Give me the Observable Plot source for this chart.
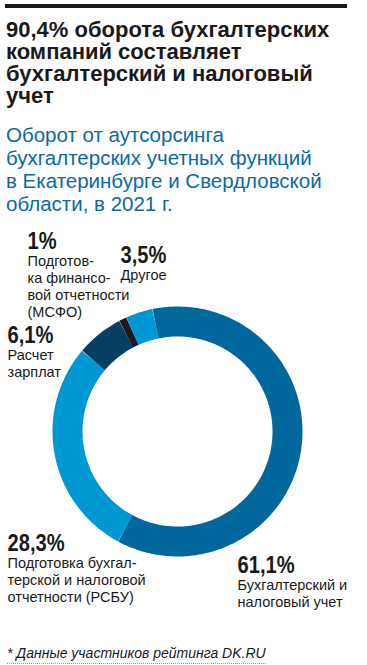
<!DOCTYPE html>
<html>
<head>
<meta charset="utf-8">
<script src="https://cdn.jsdelivr.net/npm/d3@7"></script>
<script src="https://cdn.jsdelivr.net/npm/@observablehq/plot@0.6"></script>
<style>
  body { margin: 0; background: #fff; width: 367px; height: 665px; overflow: hidden; font-family: "Liberation Sans", Arial, sans-serif; }
  #header { position: relative; height: 220px; }
  #rule { position: absolute; left: 5px; top: 4px; width: 342px; height: 4px; background: #1a1a1a; }
  #title { position: absolute; left: 6px; top: 19px; font-size: 22px; line-height: 22px; font-weight: bold; color: #1a1a1a; white-space: nowrap; }
  #subtitle { position: absolute; left: 6px; top: 123px; font-size: 20.5px; line-height: 23px; color: #0b6aa1; white-space: nowrap; }
  #chart { height: 405px; }
  #chart svg { display: block; }
  #footer { position: relative; height: 40px; }
  #note { position: absolute; left: 7px; top: 20px; font-size: 14px; font-style: italic; color: #1a1a1a; padding-bottom: 2px; border-bottom: 1px dotted #999; }
</style>
</head>
<body>
<div id="header">
  <div id="rule"></div>
  <div id="title">90,4% оборота бухгалтерских<br>компаний составляет<br>бухгалтерский и налоговый<br>учет</div>
  <div id="subtitle">Оборот от аутсорсинга<br>бухгалтерских учетных функций<br>в Екатеринбурге и Свердловской<br>области, в 2021 г.</div>
</div>
<div id="chart"></div>
<div id="footer"><div id="note">* Данные участников рейтинга DK.RU</div></div>
<script>
// ---- data ----
const categories = [
  "Бухгалтерский и налоговый учет",
  "Подготовка бухгалтерской и налоговой отчетности (РСБУ)",
  "Расчет зарплат",
  "Подготовка финансовой отчетности (МСФО)",
  "Другое"
];
const values = [61.1, 28.3, 6.1, 1, 3.5];
const labelLines = [
  ["Бухгалтерский и", "налоговый учет"],
  ["Подготовка бухгал-", "терской и налоговой", "отчетности (РСБУ)"],
  ["Расчет", "зарплат"],
  ["Подготов-", "ка финансо-", "вой отчетности", "(МСФО)"],
  ["Другое"]
];
const colors = ["#00689c", "#0098d4", "#063f62", "#1b1b1f", "#0098d4"];

// ---- layout (svg pixel space) ----
const W = 367, H = 405;
const cx = 177, cy = 211, rMid = 110, ringWidth = 30;
const startDeg = -11.6;
const labelPos = [
  {x: 237, y: 352},
  {x: 7, y: 330},
  {x: 7, y: 122},
  {x: 27, y: 28},
  {x: 120, y: 42}
];
const pctSize = 24, pctSqueeze = 0.84, bodySize = 14.5, bodyLead = 17;

// arcs
const total = d3.sum(values);
let acc = 0;
const arcPts = [];
values.forEach((v, i) => {
  const a0 = (startDeg + acc / total * 360) * Math.PI / 180;
  acc += v;
  const a1 = (startDeg + acc / total * 360) * Math.PI / 180;
  const n = Math.max(4, Math.ceil(v * 2));
  for (let k = 0; k <= n; k++) {
    const a = a0 + (a1 - a0) * k / n;
    arcPts.push({cat: i, x: cx + rMid * Math.sin(a), y: cy - rMid * Math.cos(a)});
  }
});

const fmt = v => String(v).replace(".", ",") + "%";
const pctLabels = values.map((v, i) => ({text: fmt(v), x: labelPos[i].x, y: labelPos[i].y}));
const bodyLabels = labelLines.flatMap((lines, i) => lines.map((t, j) => ({text: t, x: labelPos[i].x, y: labelPos[i].y + bodyLead * (j + 1)})));

const chart = Plot.plot({
  width: W, height: H,
  margin: 0,
  x: {domain: [0, W], range: [0, W], axis: null},
  y: {domain: [0, H], range: [0, H], axis: null},
  color: {domain: d3.range(values.length), range: colors},
  marks: [
    Plot.line(arcPts, {x: "x", y: "y", z: "cat", stroke: "cat", strokeWidth: ringWidth, strokeLinecap: "butt", strokeLinejoin: "round"}),
    Plot.text(pctLabels, {x: "x", y: "y", text: "text", textAnchor: "start", lineAnchor: "bottom", fontSize: pctSize, fontWeight: "bold", fontFamily: "'Liberation Sans', Arial, sans-serif", fill: "#1a1a1a", className: "pct"}),
    Plot.text(bodyLabels, {x: "x", y: "y", text: "text", textAnchor: "start", lineAnchor: "bottom", fontSize: bodySize, fontFamily: "'Liberation Sans', Arial, sans-serif", fill: "#1a1a1a"})
  ]
});
// condensed look for the percentages
d3.select(chart).selectAll(".pct text").each(function() {
  const t = this.getAttribute("transform") || "";
  this.setAttribute("transform", t + ` scale(${pctSqueeze},1)`);
});
document.getElementById("chart").appendChild(chart);
</script>
</body>
</html>
